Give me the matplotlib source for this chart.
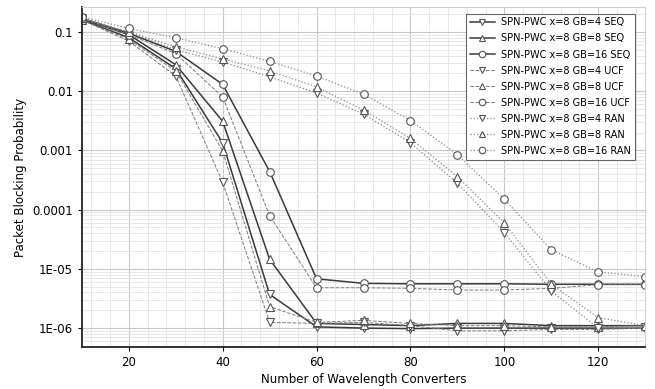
import matplotlib
matplotlib.use("Agg")
import matplotlib.pyplot as plt
from matplotlib.ticker import FixedLocator, MultipleLocator, LogLocator, NullFormatter
import numpy as np

converters = [10, 20, 30, 40, 50, 60, 70, 80, 90, 100, 110, 120, 130]

# blocking probability
seq_gb4 = [0.16, 0.08, 0.024, 1.34e-3, 3.7e-6, 1.05e-6, 1.0e-6, 9.8e-7, 1.0e-6, 1.0e-6, 1.0e-6, 1.0e-6, 1.0e-6]
seq_gb8 = [0.165, 0.09, 0.028, 3.1e-3, 1.45e-5, 1.2e-6, 1.15e-6, 1.1e-6, 1.2e-6, 1.2e-6, 1.1e-6, 1.1e-6, 1.1e-6]
seq_gb16 = [0.17, 0.095, 0.047, 0.013, 4.4e-4, 6.8e-6, 5.7e-6, 5.6e-6, 5.6e-6, 5.6e-6, 5.5e-6, 5.5e-6, 5.5e-6]
ucf_gb4 = [0.16, 0.07, 0.018, 2.9e-4, 1.25e-6, 1.2e-6, 1.25e-6, 1.1e-6, 9.0e-7, 9.0e-7, 9.5e-7, 9.5e-7, 1.0e-6]
ucf_gb8 = [0.16, 0.075, 0.022, 9.8e-4, 2.3e-6, 1.25e-6, 1.35e-6, 1.2e-6, 1.1e-6, 1.1e-6, 1.05e-6, 1.05e-6, 1.1e-6]
ucf_gb16 = [0.17, 0.09, 0.043, 8.0e-3, 7.9e-5, 4.8e-6, 4.8e-6, 4.7e-6, 4.4e-6, 4.4e-6, 4.7e-6, 5.4e-6, 5.4e-6]
ran_gb4 = [0.17, 0.1, 0.05, 0.031, 0.0175, 0.0093, 0.0041, 1.35e-3, 2.8e-4, 4.1e-5, 4.2e-6, 1.0e-6, 1.05e-6]
ran_gb8 = [0.17, 0.1, 0.056, 0.035, 0.022, 0.0118, 0.0048, 1.6e-3, 3.6e-4, 6.0e-5, 5.5e-6, 1.5e-6, 1.1e-6]
ran_gb16 = [0.18, 0.115, 0.08, 0.052, 0.032, 0.018, 0.0089, 3.2e-3, 8.5e-4, 1.5e-4, 2.1e-5, 8.9e-6, 7.4e-6]

labels = [
    "SPN-PWC x=8 GB=4 SEQ", "SPN-PWC x=8 GB=8 SEQ", "SPN-PWC x=8 GB=16 SEQ",
    "SPN-PWC x=8 GB=4 UCF", "SPN-PWC x=8 GB=8 UCF", "SPN-PWC x=8 GB=16 UCF",
    "SPN-PWC x=8 GB=4 RAN", "SPN-PWC x=8 GB=8 RAN", "SPN-PWC x=8 GB=16 RAN",
]
series = [seq_gb4, seq_gb8, seq_gb16, ucf_gb4, ucf_gb8, ucf_gb16, ran_gb4, ran_gb8, ran_gb16]

yticks = [0.1, 0.01, 0.001, 0.0001, 1e-5, 1e-6]
yticklabels = ["0.1", "0.01", "0.001", "0.0001", "1E-05", "1E-06"]

markers = ["v", "^", "o"]
styles = [("-", "#3a3a3a", 1.1), ("--", "#7a7a7a", 0.7), (":", "#8a8a8a", 0.9)]

fig = plt.figure(figsize=(6.55, 3.89), dpi=100)
ax = fig.add_axes([0.125, 0.108, 0.86, 0.874])

for i, (y, lab) in enumerate(zip(series, labels)):
    ls, col, lw = styles[i // 3]
    ax.semilogy(converters, y, ls=ls, color=col, lw=lw,
                marker=markers[i % 3], ms=5.5, mfc="white", mec="#555555",
                mew=0.8, label=lab)

ax.set_xlim(10, 130)
ax.set_ylim(4.8e-7, 0.264)
ax.xaxis.set_major_locator(MultipleLocator(20))
ax.xaxis.set_minor_locator(MultipleLocator(4))
ax.yaxis.set_major_locator(FixedLocator(yticks))
ax.set_yticklabels(yticklabels)
ax.yaxis.set_minor_locator(LogLocator(base=10, subs=np.arange(2, 10)))
ax.yaxis.set_minor_formatter(NullFormatter())

ax.grid(which="major", color="#c8c8c8", lw=0.8)
ax.grid(which="minor", color="#e4e4e4", lw=0.6)
ax.set_axisbelow(True)

for s in ["top", "right"]:
    ax.spines[s].set_color("#d0d0d0")
for s in ["left", "bottom"]:
    ax.spines[s].set_linewidth(1.3)
    ax.spines[s].set_color("#222222")
ax.tick_params(which="minor", length=0)
ax.tick_params(which="major", labelsize=8.5, length=3, direction="out")
ax.xaxis.set_ticks_position("bottom")
ax.yaxis.set_ticks_position("left")

ax.set_xlabel("Number of Wavelength Converters", fontsize=8.5, labelpad=3)
ax.set_ylabel("Packet Blocking Probability", fontsize=8.5)

leg = ax.legend(loc="upper right", fontsize=7.0, numpoints=1, handlelength=2.6,
                handletextpad=0.6, markerscale=0.85,
                labelspacing=0.62, borderpad=0.4, fancybox=False,
                framealpha=1, edgecolor="#666666", bbox_to_anchor=(0.99, 0.995))
leg.get_frame().set_linewidth(0.8)

fig.savefig("out.png", dpi=100)
